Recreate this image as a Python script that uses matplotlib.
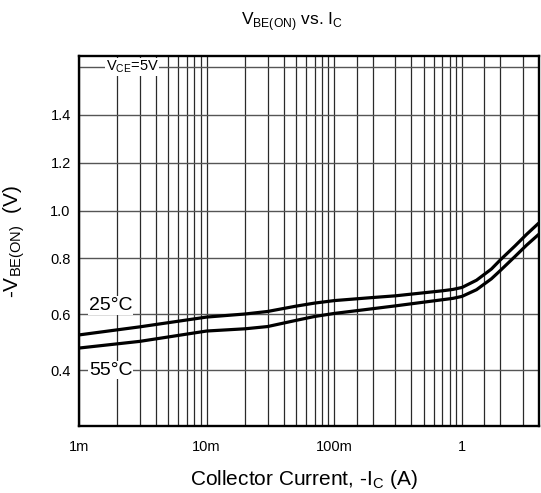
import numpy as np
import matplotlib
matplotlib.use('Agg')
import matplotlib.pyplot as plt
from matplotlib.ticker import FixedLocator, NullFormatter

plt.rcParams['font.family'] = ['Liberation Sans', 'DejaVu Sans']

# collector current (A) and base-emitter voltage (V)
ic = [1e-3, 3e-3, 10e-3, 20e-3, 30e-3, 50e-3, 70e-3, 100e-3, 200e-3, 300e-3, 0.7, 0.85, 1.0,
      1.3, 1.7, 2.0, 2.6, 3.2, 4.0]
vbe_25 = [0.526, 0.555, 0.590, 0.601, 0.610, 0.629, 0.640, 0.649, 0.660, 0.666, 0.684, 0.689, 0.696,
          0.722, 0.762, 0.795, 0.852, 0.900, 0.948]
vbe_55 = [0.479, 0.503, 0.540, 0.548, 0.556, 0.578, 0.592, 0.603, 0.620, 0.630, 0.652, 0.657, 0.664,
          0.688, 0.727, 0.757, 0.808, 0.855, 0.901]

x_ticks = [1e-3, 1e-2, 1e-1, 1.0]
x_labels = ['1m', '10m', '100m', '1']
y_ticks = [0.4, 0.6, 0.8, 1.0, 1.2, 1.4, 1.6]
y_labels = ['0.4', '0.6', '0.8', '1.0', '1.2', '1.4', '']

# the printed y grid is stretched below 0.8
def y_fwd(v):
    return np.interp(v, [-10.0, 0.8, 10.0], [168 - 10.8 * 280, 168, 168 + 9.2 * 240])

def y_inv(p):
    return np.interp(p, [168 - 10.8 * 280, 168, 168 + 9.2 * 240], [-10.0, 0.8, 10.0])

fig = plt.figure(figsize=(5.41, 4.93), dpi=100)
ax = fig.add_axes([0.146, 0.136, 0.850, 0.750])

ax.set_xscale('log')
ax.set_yscale('function', functions=(y_fwd, y_inv))
ax.set_xlim(1e-3, 4.0)
ax.set_ylim(0.2, 1.645)

# grid
minor = []
for d in [1e-3, 1e-2, 1e-1, 1.0]:
    subs = [2, 3, 4, 5, 6, 7, 8, 9] if d < 0.1 else [1.5, 2, 3, 4, 5, 6, 7, 8, 9]
    minor += [m * d for m in subs if m * d < 4.0]
ax.xaxis.set_major_locator(FixedLocator(x_ticks))
ax.xaxis.set_minor_locator(FixedLocator(minor))
ax.xaxis.set_minor_formatter(NullFormatter())
ax.set_xticklabels(x_labels)
ax.set_yticks(y_ticks)
ax.set_yticklabels(y_labels)
ax.yaxis.set_minor_locator(FixedLocator([]))

ax.grid(True, axis='x', which='both', color='#2a2a2a', lw=0.9)
ax.grid(True, axis='y', which='major', color='#555555', lw=1.0)
ax.set_axisbelow(True)

ax.tick_params(axis='both', which='both', length=0, labelsize=10.5)
ax.tick_params(axis='x', pad=10)
ax.tick_params(axis='y', pad=6)
for s in ax.spines.values():
    s.set_linewidth(1.7)

ax.plot(ic, vbe_25, color='black', lw=2.3, solid_capstyle='butt')
ax.plot(ic, vbe_55, color='black', lw=2.3, solid_capstyle='butt')

box = dict(facecolor='white', edgecolor='none', pad=0.5)
ax.text(1.2e-3, 0.6, '25°C', fontsize=14, ha='left', va='bottom', bbox=box)
ax.text(1.2e-3, 0.4, '55°C', fontsize=14, ha='left', va='center', bbox=box)
ax.text(1.62e-3, 1.6, r'V$_{\mathregular{CE}}$=5V', fontsize=10.5, ha='left', va='center', bbox=box)

ax.set_xlabel(r'Collector Current, -I$_{\mathregular{C}}$ (A)', fontsize=15)
ax.xaxis.set_label_coords(0.49, -0.115)
ax.set_ylabel(r'-V$_{\mathregular{BE(ON)}}$  (V)', fontsize=15)
ax.yaxis.set_label_coords(-0.113, 0.50)

fig.text(0.54, 0.957, r'V$_{\mathregular{BE(ON)}}$ vs. I$_{\mathregular{C}}$',
         fontsize=12.5, ha='center', va='center')

fig.savefig('out.png', dpi=100)
